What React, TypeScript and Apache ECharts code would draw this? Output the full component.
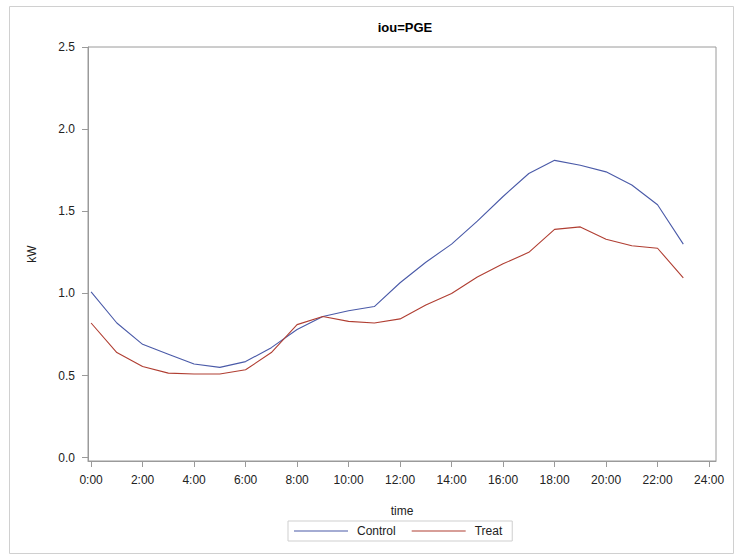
import React, { useEffect, useRef } from "react";
import * as echarts from "echarts";

const title = "iou=PGE";
const hours = [0, 1, 2, 3, 4, 5, 6, 7, 8, 9, 10, 11, 12, 13, 14, 15, 16, 17, 18, 19, 20, 21, 22, 23];
const control = [1.01, 0.82, 0.69, 0.63, 0.57, 0.55, 0.585, 0.67, 0.78, 0.86, 0.895, 0.92, 1.065, 1.19, 1.30, 1.44, 1.59, 1.73, 1.81, 1.78, 1.74, 1.66, 1.54, 1.30];
const treat = [0.82, 0.64, 0.555, 0.515, 0.51, 0.51, 0.535, 0.64, 0.81, 0.86, 0.83, 0.82, 0.845, 0.93, 1.00, 1.10, 1.18, 1.25, 1.39, 1.405, 1.33, 1.29, 1.275, 1.095];
const xTicks = [0, 2, 4, 6, 8, 10, 12, 14, 16, 18, 20, 22, 24];
const yTicks = [0, 0.5, 1.0, 1.5, 2.0, 2.5];

const FONT = "'Liberation Sans', Arial, sans-serif";
const LINE_ICON = "path://M0,0 L100,0 L100,2 L0,2 Z";

export default function App() {
  const ref = useRef<HTMLDivElement>(null);
  useEffect(() => {
    const chart = echarts.init(ref.current!, null, { renderer: "svg" });
    const axisColor = "#9a9a9a";
    const textColor = "#222";
    chart.setOption({
      animation: false,
      textStyle: { fontFamily: FONT },
      title: {
        text: title,
        left: 400,
        textAlign: "center",
        top: 16,
        textStyle: { fontFamily: FONT, fontSize: 13, fontWeight: "bold", color: "#000" },
      },
      graphic: [
        {
          type: "rect",
          shape: { x: 9.5, y: 6.5, width: 724, height: 547 },
          style: { fill: "none", stroke: "#d0d0d0", lineWidth: 1 },
          silent: true,
        },
      ],
      grid: {
        left: 88,
        top: 47,
        right: 25,
        bottom: 94,
        show: true,
        borderColor: axisColor,
        borderWidth: 1,
        containLabel: false,
      },
      legend: {
        left: 288,
        top: 521,
        orient: "horizontal",
        borderColor: "#cfcfcf",
        borderWidth: 1,
        padding: [4, 10, 4, 6],
        itemWidth: 54,
        itemHeight: 1.5,
        itemGap: 16,
        icon: LINE_ICON,
        textStyle: { fontFamily: FONT, fontSize: 12, color: textColor, padding: [0, 0, 0, 4] },
        data: ["Control", "Treat"],
      },
      xAxis: {
        type: "value",
        min: -0.12,
        max: 24.27,
        name: "time",
        nameLocation: "middle",
        nameGap: 44,
        nameTextStyle: { fontFamily: FONT, fontSize: 12, color: textColor },
        axisLine: { show: true, onZero: false, lineStyle: { color: axisColor } },
        axisTick: { show: true, length: 6, lineStyle: { color: axisColor }, customValues: xTicks },
        axisLabel: {
          customValues: xTicks,
          formatter: (v: number) => `${v}:00`,
          fontFamily: FONT,
          fontSize: 12,
          color: textColor,
          margin: 13,
        },
        splitLine: { show: false },
      },
      yAxis: {
        type: "value",
        min: -0.02,
        max: 2.5,
        name: "kW",
        nameLocation: "middle",
        nameGap: 50,
        nameRotate: 90,
        nameTextStyle: { fontFamily: FONT, fontSize: 12, color: textColor },
        axisLine: { show: true, onZero: false, lineStyle: { color: axisColor } },
        axisTick: { show: true, length: 6, lineStyle: { color: axisColor }, customValues: yTicks },
        axisLabel: {
          customValues: yTicks,
          formatter: (v: number) => v.toFixed(1),
          fontFamily: FONT,
          fontSize: 12,
          color: textColor,
          margin: 13,
        },
        splitLine: { show: false },
      },
      series: [
        {
          name: "Control",
          type: "line",
          data: hours.map((h, i) => [h, control[i]]),
          symbol: "none",
          lineStyle: { color: "#4a5aa8", width: 1.1 },
          itemStyle: { color: "#4a5aa8" },
        },
        {
          name: "Treat",
          type: "line",
          data: hours.map((h, i) => [h, treat[i]]),
          symbol: "none",
          lineStyle: { color: "#B03E32", width: 1.1 },
          itemStyle: { color: "#B03E32" },
        },
      ],
    });
    return () => chart.dispose();
  }, []);
  return (
    <div
      ref={ref}
      style={{ position: "fixed", left: 0, top: 0, width: 741, height: 555, background: "#fff" }}
    />
  );
}
